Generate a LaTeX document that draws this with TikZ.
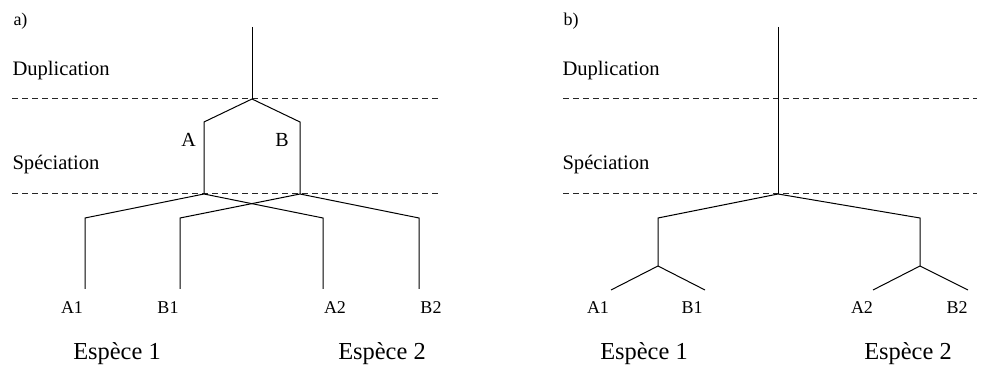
\documentclass[tikz,border=0pt]{standalone}
\usepackage{fontspec}
\setmainfont{Liberation Serif}
\begin{document}
\begin{tikzpicture}[x=0.5pt,y=-0.5pt,line width=0.5pt,
  branch/.style={draw=black,line join=miter},
  level/.style={draw=black!85,dash pattern=on 3pt off 2pt},
  lvltxt/.style={anchor=base west,inner sep=0pt,font=\fontsize{10.3}{12}\selectfont},
  paneltxt/.style={anchor=base west,inner sep=0pt,font=\fontsize{9}{11}\selectfont},
  leaftxt/.style={anchor=base,inner sep=0pt,font=\fontsize{9}{11}\selectfont},
  genetxt/.style={anchor=base,inner sep=0pt,font=\fontsize{10}{12}\selectfont},
  sptxt/.style={anchor=base,inner sep=0pt,font=\fontsize{12.2}{14}\selectfont}]
\useasboundingbox (0,0) rectangle (982,368);
% ---------- panel a ----------
\node[paneltxt] (pa) at (13,26) {a)};
\node[lvltxt] (dupa) at (12,76) {Duplication};
\node[lvltxt] (speca) at (12,170) {Spéciation};
\coordinate (da1) at (12,99);  \coordinate (da2) at (440,99);
\coordinate (sa1) at (12,194); \coordinate (sa2) at (440,194);
\draw[level] (da1) -- (da2);
\draw[level] (sa1) -- (sa2);
\coordinate (ra) at (252,27);
\coordinate (dup) at (252,99);
\coordinate (aT) at (204,122); \coordinate (aS) at (204,194);
\coordinate (bT) at (300,122); \coordinate (bS) at (300,194);
\coordinate (a1T) at (85,218);  \coordinate (a1E) at (85,289);
\coordinate (b1T) at (180,218); \coordinate (b1E) at (180,289);
\coordinate (a2T) at (323,218); \coordinate (a2E) at (323,289);
\coordinate (b2T) at (419,218); \coordinate (b2E) at (419,289);
\draw[branch] (ra) -- (dup);
\draw[branch] (dup) -- (aT) -- (aS);
\draw[branch] (dup) -- (bT) -- (bS);
\draw[branch] (aS) -- (a1T) -- (a1E);
\draw[branch] (aS) -- (a2T) -- (a2E);
\draw[branch] (bS) -- (b1T) -- (b1E);
\draw[branch] (bS) -- (b2T) -- (b2E);
\node[genetxt] (labA) at (188.5,147) {A};
\node[genetxt] (labB) at (282,147) {B};
\node[leaftxt] (la1) at (72,314) {A1};
\node[leaftxt] (lb1) at (168,314) {B1};
\node[leaftxt] (la2) at (335,314) {A2};
\node[leaftxt] (lb2) at (431,314) {B2};
\node[sptxt] (e1a) at (117,360) {Espèce 1};
\node[sptxt] (e2a) at (382,360) {Espèce 2};
% ---------- panel b ----------
\node[paneltxt] (pb) at (563,26) {b)};
\node[lvltxt] (dupb) at (562,76) {Duplication};
\node[lvltxt] (specb) at (562,170) {Spéciation};
\coordinate (db1) at (563,99);  \coordinate (db2) at (977,99);
\coordinate (sb1) at (563,194); \coordinate (sb2) at (977,194);
\draw[level] (db1) -- (db2);
\draw[level] (sb1) -- (sb2);
\coordinate (rb) at (778,27);
\coordinate (spb) at (778,194);
\coordinate (s1T) at (658,218); \coordinate (s1D) at (658,266);
\coordinate (s2T) at (920,218); \coordinate (s2D) at (920,266);
\coordinate (xa1) at (611,290); \coordinate (xb1) at (705,290);
\coordinate (xa2) at (873,290); \coordinate (xb2) at (968,290);
\draw[branch] (rb) -- (spb);
\draw[branch] (spb) -- (s1T) -- (s1D);
\draw[branch] (spb) -- (s2T) -- (s2D);
\draw[branch] (s1D) -- (xa1);
\draw[branch] (s1D) -- (xb1);
\draw[branch] (s2D) -- (xa2);
\draw[branch] (s2D) -- (xb2);
\node[leaftxt] (mb1) at (598,314) {A1};
\node[leaftxt] (mb2) at (692,314) {B1};
\node[leaftxt] (mb3) at (862,314) {A2};
\node[leaftxt] (mb4) at (957,314) {B2};
\node[sptxt] (e1b) at (644,360) {Espèce 1};
\node[sptxt] (e2b) at (908,360) {Espèce 2};
\end{tikzpicture}
\end{document}
